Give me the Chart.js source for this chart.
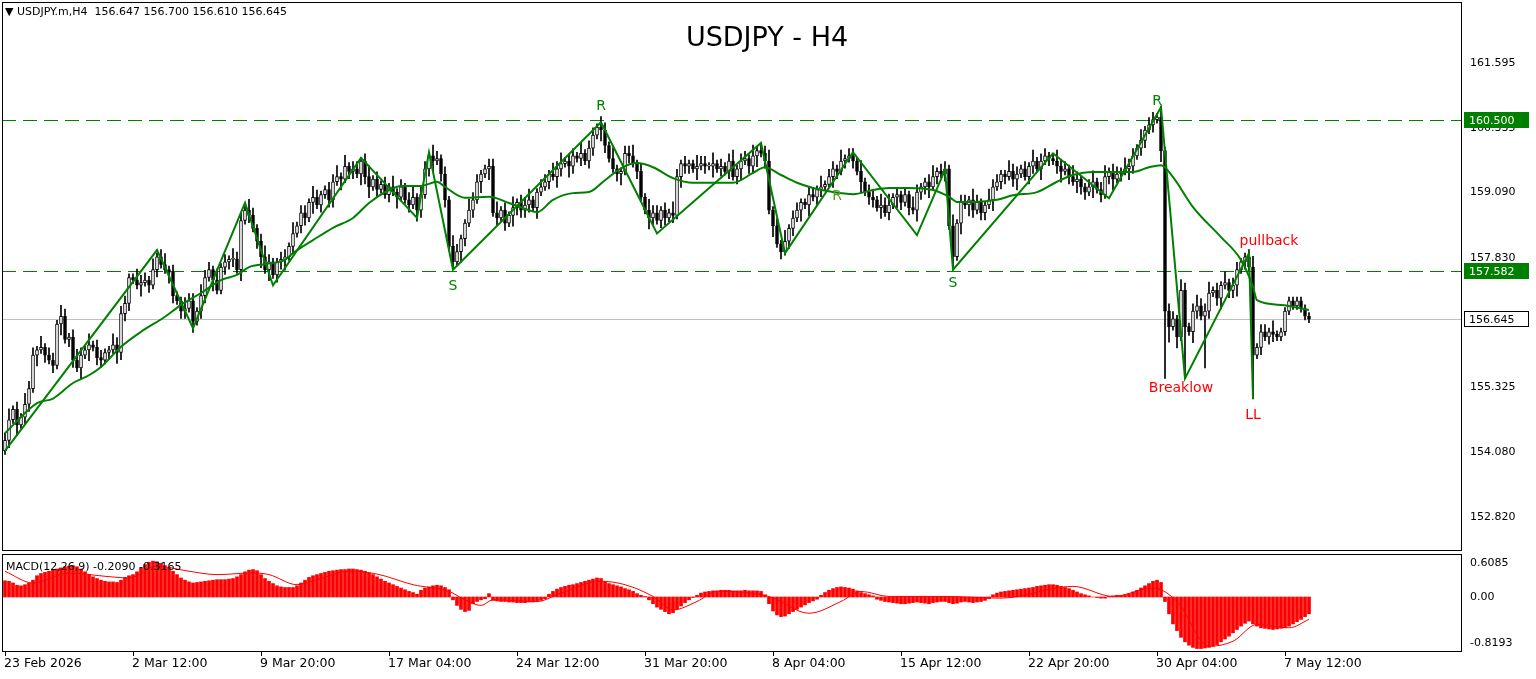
<!DOCTYPE html>
<html>
<head>
<meta charset="utf-8">
<script src="https://cdn.jsdelivr.net/npm/chart.js@4.4.1/dist/chart.umd.min.js"></script>
<style>
  html, body { margin: 0; padding: 0; background: #fff; overflow: hidden; }
  #wrap { position: relative; width: 1536px; height: 679px; }
  canvas { position: absolute; left: 0; }
  #main { top: 0; }
  #macd { top: 553px; }
</style>
</head>
<body>
<div id="wrap">
  <canvas id="main" width="1536" height="553"></canvas>
  <canvas id="macd" width="1536" height="126"></canvas>
</div>
<script>
// USDJPY H4 (one entry per 4h bar)
const closes = [
  154.3,154.7,154.9,154.6,154.75,155.0,155.3,155.95,156.05,156.1,
  155.95,155.85,155.75,156.55,156.7,156.25,156.3,155.85,155.7,155.95,
  156.05,156.15,156.1,155.9,155.85,156.0,156.05,156.15,156.0,156.75,
  156.95,157.45,157.4,157.3,157.35,157.4,157.3,157.6,157.85,157.7,
  157.6,157.55,157.1,157.0,156.8,156.85,157.0,156.6,156.8,157.1,
  157.45,157.6,157.4,157.2,157.65,157.75,157.8,157.8,157.6,158.55,
  158.75,158.65,158.4,158.15,157.85,157.6,157.75,157.5,157.75,157.8,
  157.85,158.05,158.3,158.45,158.7,158.6,158.9,159.0,158.85,159.05,
  159.15,158.95,159.3,159.4,159.35,159.6,159.5,159.55,159.45,159.7,
  159.4,159.2,159.35,159.15,159.25,159.05,159.2,159.1,159.0,159.2,
  158.95,158.85,159.0,158.75,159.05,159.55,159.8,159.7,159.75,159.45,
  158.95,158.05,157.75,157.95,158.2,158.5,158.75,158.95,159.3,159.45,
  159.55,159.6,158.7,158.6,158.75,158.5,158.65,158.8,158.9,158.75,
  158.85,158.95,158.8,159.1,159.2,159.3,159.45,159.4,159.55,159.65,
  159.7,159.6,159.8,159.75,159.85,159.7,159.95,160.2,160.35,160.3,
  160.0,159.75,159.55,159.45,159.5,159.85,159.8,159.65,159.5,159.0,
  158.75,158.6,158.7,158.55,158.75,158.6,158.7,158.65,159.4,159.65,
  159.6,159.65,159.55,159.6,159.65,159.6,159.6,159.65,159.55,159.6,
  159.5,159.7,159.4,159.55,159.7,159.75,159.6,159.8,159.9,159.85,
  159.7,158.75,158.45,158.1,157.95,158.15,158.4,158.6,158.75,158.9,
  158.85,159.05,159.0,159.15,159.2,159.25,159.4,159.55,159.5,159.7,
  159.75,159.8,159.7,159.5,159.3,159.1,159.0,158.95,158.8,158.85,
  158.7,158.85,159.0,159.05,158.9,159.05,158.8,158.75,159.1,159.2,
  159.3,159.2,159.4,159.5,159.45,159.55,158.45,157.85,158.5,158.9,
  158.85,158.95,158.75,158.9,158.7,158.85,158.95,159.2,159.3,159.45,
  159.4,159.5,159.35,159.45,159.55,159.4,159.6,159.7,159.55,159.7,
  159.8,159.75,159.7,159.6,159.5,159.55,159.4,159.3,159.35,159.2,
  159.1,159.2,159.3,159.15,159.05,159.4,159.5,159.35,159.45,159.5,
  159.55,159.6,159.8,159.95,160.1,160.3,160.4,160.5,160.55,159.9,
  156.8,156.5,156.65,156.3,157.2,156.5,156.4,156.8,156.9,156.7,
  156.8,157.15,157.2,157.05,157.3,157.35,157.2,157.3,157.6,157.75,
  157.85,157.65,155.95,156.1,156.4,156.3,156.4,156.35,156.3,156.4,
  156.8,157.0,156.9,157.0,156.85,156.7,156.645
];
const firstOpen = 154.1;

// wick lengths per bar, one digit per bar, in steps of 0.07
const wickUp =
  "2312132213122132123213122113222113221312312113221322131213221321232112" +
  "2131221321122313122123121213121231221321213211322112231213122311221323" +
  "1221312213213112231213221213212113221312123122131223121312211221312213" +
  "1221312213231212132112312213122132113221132212131221132213211231231221" +
  "322131221312213212322312131221123122131";
const wickDn =
  "1213122131212131221313122121322211312121132122131221311222131212313122" +
  "3121221312122131221323121121311213212312212132121313121213222213112132" +
  "1321212213211231212113212212132213121312121231223121312122131312211321" +
  "2121312213121321213223121212131321221312212311221312123121322131212312" +
  "132122121322131213211212312231213121221";
const WICK_STEP = 0.07;
// long tails that do not fit the digit scale
const longTailIdx = [290, 295, 300, 312, 237, 112, 291];
const longTailLow = [155.5, 155.5, 155.7, 155.1, 157.6, 157.6, 156.2];
const longTopIdx = [289, 149, 311];
const longTopHigh = [160.74, 160.45, 157.92];

// zigzag pivots (bar index, price)
const zigIdx = [0, 38, 47, 60, 67, 89, 103, 106, 112, 149, 163, 189, 195, 212, 228, 235, 237, 262, 276, 289, 295, 311, 312];
const zigVal = [154.1, 157.98, 156.47, 158.89, 157.3, 159.76, 158.6, 159.87, 157.6, 160.45, 158.3, 160.05, 157.92, 159.87, 158.27, 159.53, 157.6, 159.85, 158.98, 160.74, 155.5, 157.92, 155.1];

// moving average line (bar index, price)
const maIdx = [0,8,12,17,21,24,29,34,40,44,49,54,58,61,65,70,72,77,82,87,91,96,99,104,108,110,115,121,126,131,133,137,142,146,150,154,158,162,167,172,182,187,190,194,198,202,207,212,217,221,226,232,236,238,242,248,252,258,263,267,272,282,286,289,292,297,304,309,312,313,319,326];
const maVal = [154.44,155.02,155.11,155.41,155.56,155.72,156.11,156.40,156.69,156.92,157.15,157.40,157.50,157.65,157.71,157.79,157.92,158.17,158.41,158.60,158.89,159.14,159.22,159.22,159.30,159.20,158.99,159.01,158.89,158.75,158.71,158.95,159.08,159.10,159.33,159.56,159.66,159.58,159.37,159.28,159.28,159.47,159.58,159.43,159.28,159.18,159.10,159.06,159.14,159.18,159.18,159.14,159.01,158.91,158.91,158.95,159.04,159.10,159.30,159.43,159.49,159.49,159.58,159.62,159.39,158.81,158.23,157.79,157.27,157.01,156.92,156.82];

// MACD histogram per bar, in hundredths
const macdHist = [
  29,28,25,21,20,22,25,30,38,42, 44,46,48,50,52,54,55,56,54,50,
  45,40,36,33,30,28,27,27,26,30, 35,38,40,45,52,58,62,64,63,60,
  56,52,46,40,34,30,27,25,26,27, 28,29,30,31,31,31,32,33,36,40,
  45,48,49,47,40,33,28,24,20,18, 17,17,17,20,25,30,35,38,40,42,
  44,46,47,48,49,49,50,50,49,48, 46,43,40,36,32,28,25,22,19,16,
  13,10,8,5,12,16,18,20,21,20, 17,13,-5,-15,-22,-26,-24,-12,-8,-5,
  -3,6,-6,-7,-8,-8,-9,-9,-10,-10, -10,-9,-9,-8,-6,-3,5,10,14,17,
  19,21,22,24,26,28,30,32,34,33, 28,24,22,20,18,15,13,10,6,3,
  1,-5,-12,-18,-22,-26,-30,-28,-22,-16, -10,-5,-1,3,7,9,10,11,11,12,
  12,12,11,11,11,12,11,11,11,10, 4,-12,-25,-32,-35,-34,-30,-26,-22,-18,
  -14,-10,-7,-4,3,8,12,15,17,18, 17,16,14,11,8,6,4,2,-4,-6,
  -8,-9,-10,-11,-12,-12,-11,-10,-9,-10, -11,-12,-10,-9,-8,-8,-10,-12,-11,-9,
  -8,-9,-10,-9,-8,-6,-3,4,7,9, 10,11,12,13,14,15,16,17,19,20,
  21,22,22,21,19,17,15,12,9,6, 4,2,0,-1,-2,-2,1,2,3,3,
  4,6,9,12,16,20,24,28,30,26, -8,-30,-48,-60,-72,-80,-86,-90,-92,-92,
  -91,-90,-88,-85,-80,-75,-70,-64,-58,-52, -47,-43,-48,-52,-55,-56,-57,-58,-57,-56,
  -55,-52,-48,-44,-40,-35,-30
];
const sigIdx = [0,7,16,25,31,38,46,53,62,66,73,78,86,93,102,111,115,119,122,133,139,149,155,162,167,173,178,191,201,209,214,221,235,249,267,277,287,293,301,307,313,321,326];
const sigVal = [0.46,0.25,0.43,0.37,0.34,0.55,0.46,0.40,0.43,0.40,0.22,0.31,0.46,0.41,0.22,0.10,-0.05,-0.15,-0.05,-0.08,0.07,0.28,0.22,0.01,-0.23,-0.08,0.10,0.01,-0.29,-0.08,0.10,0.01,0.01,-0.02,0.19,0.01,0.16,-0.08,-0.88,-0.79,-0.49,-0.55,-0.40];

const priceTicks = [152.82, 154.08, 155.325, 156.57, 157.83, 159.09, 160.335, 161.595];
const macdTicks = [0.6085, 0, -0.8193];
const timeIdx = [0, 32, 64, 96, 128, 160, 192, 224, 256, 288, 320];
const timeLabels = ['23 Feb 2026', '2 Mar 12:00', '9 Mar 20:00', '17 Mar 04:00', '24 Mar 12:00', '31 Mar 20:00',
  '8 Apr 04:00', '15 Apr 12:00', '22 Apr 20:00', '30 Apr 04:00', '7 May 12:00'];

const levels = [160.5, 157.582];
const lastPrice = 156.645;

const noteText = ['R', 'S', 'R', 'S', 'R', 'pullback', 'Breaklow', 'LL'];
const noteIdx = [149, 112, 288, 237, 208, 316, 294, 312];
const notePrice = [160.76, 157.28, 160.85, 157.34, 159.02, 158.15, 155.3, 154.78];
const noteColor = ['#008000', '#008000', '#008000', '#008000', '#5a9a2a', '#ff0000', '#ff0000', '#ff0000'];

// ---- build candles ----
const wicks = [], bodies = [], bodyFill = [];
let prev = firstOpen;
for (let i = 0; i < closes.length; i++) {
  const o = prev, c = closes[i];
  let hi = Math.max(o, c) + Number(wickUp[i] || 1) * WICK_STEP;
  let lo = Math.min(o, c) - Number(wickDn[i] || 1) * WICK_STEP;
  const t = longTailIdx.indexOf(i);
  if (t >= 0) lo = Math.min(lo, longTailLow[t]);
  const u = longTopIdx.indexOf(i);
  if (u >= 0) hi = Math.max(hi, longTopHigh[u]);
  wicks.push({ x: i, y: [lo, hi] });
  const top = Math.max(o, c), bot = Math.min(o, c);
  bodies.push({ x: i, y: [bot, top - bot < 0.02 ? bot + 0.02 : top] });
  bodyFill.push(c >= o ? '#ffffff' : '#000000');
  prev = c;
}

const X_MIN = -0.75, X_MAX = 364.25;
const FONT = '"DejaVu Sans", Tahoma, sans-serif';

// y axes on the right: fixed width, no extra padding for edge labels
function fitRight(s) {
  s.width = 74;
  s.paddingTop = 0;
  s.paddingBottom = 0;
}

const framePlugin = {
  id: 'frame',
  afterDraw(chart) {
    const { ctx, chartArea: a } = chart;
    ctx.save();
    ctx.strokeStyle = '#000';
    ctx.lineWidth = 1;
    ctx.strokeRect(a.left + 0.5, a.top + 0.5, a.right - a.left - 1, a.bottom - a.top - 1);
    ctx.restore();
  }
};

const overlayPlugin = {
  id: 'overlay',
  beforeDatasetsDraw(chart) {
    const { ctx, chartArea: a, scales: { y } } = chart;
    ctx.save();
    ctx.lineWidth = 1;
    ctx.strokeStyle = '#c0c0c0';
    let py = Math.round(y.getPixelForValue(lastPrice)) + 0.5;
    ctx.beginPath(); ctx.moveTo(a.left, py); ctx.lineTo(a.right, py); ctx.stroke();
    ctx.strokeStyle = '#008000';
    ctx.setLineDash([14, 7]);
    levels.forEach(v => {
      const yy = Math.round(y.getPixelForValue(v)) + 0.5;
      ctx.beginPath(); ctx.moveTo(a.left, yy); ctx.lineTo(a.right, yy); ctx.stroke();
    });
    ctx.restore();
  },
  afterDatasetsDraw(chart) {
    const { ctx, scales: { x, y } } = chart;
    ctx.save();
    ctx.font = '14px ' + FONT;
    ctx.textAlign = 'center';
    ctx.textBaseline = 'middle';
    noteText.forEach((t, k) => {
      ctx.fillStyle = noteColor[k];
      ctx.fillText(t, x.getPixelForValue(noteIdx[k]), y.getPixelForValue(notePrice[k]));
    });
    ctx.fillStyle = '#000';
    ctx.font = '27px ' + FONT;
    ctx.fillText('USDJPY - H4', 767, 39);
    ctx.font = '11px ' + FONT;
    ctx.textAlign = 'left';
    ctx.fillText('\u25BC USDJPY.m,H4  156.647 156.700 156.610 156.645', 5, 12);
    ctx.restore();
  },
  afterDraw(chart) {
    const { ctx, chartArea: a, scales: { y } } = chart;
    ctx.save();
    ctx.font = '11px ' + FONT;
    ctx.textBaseline = 'middle';
    ctx.textAlign = 'left';
    const box = (v, fill, txt, stroke) => {
      const yy = Math.round(y.getPixelForValue(v));
      ctx.fillStyle = fill;
      ctx.fillRect(a.right + 2, yy - 8, 65, 16);
      if (stroke) { ctx.strokeStyle = stroke; ctx.strokeRect(a.right + 2.5, yy - 7.5, 64, 15); }
      ctx.fillStyle = txt;
      ctx.fillText(v.toFixed(3), a.right + 7, yy + 1);
    };
    levels.forEach(v => box(v, '#008000', '#ffffff'));
    box(lastPrice, '#ffffff', '#000000', '#000000');
    ctx.restore();
  }
};

new Chart(document.getElementById('main'), {
  type: 'bar',
  data: {
    datasets: [
      { type: 'line', data: zigIdx.map((v, k) => ({ x: v, y: zigVal[k] })), borderColor: '#008000', borderWidth: 2, pointRadius: 0, order: 0 },
      { type: 'line', data: maIdx.map((v, k) => ({ x: v, y: maVal[k] })), borderColor: '#008000', borderWidth: 2, pointRadius: 0, cubicInterpolationMode: 'monotone', order: 1 },
      { data: bodies, backgroundColor: bodyFill, borderColor: '#000', borderWidth: 1, borderSkipped: false, barThickness: 3, grouped: false, order: 2 },
      { data: wicks, backgroundColor: '#000', borderWidth: 0, barThickness: 1, grouped: false, order: 3 }
    ]
  },
  options: {
    responsive: false,
    animation: false,
    layout: { padding: { left: 2, top: 2, bottom: 2, right: 0 } },
    plugins: { legend: { display: false }, tooltip: { enabled: false } },
    scales: {
      x: { type: 'linear', offset: false, min: X_MIN, max: X_MAX, display: false },
      y: {
        position: 'right', min: 152.163, max: 162.774,
        afterFit: fitRight,
        afterBuildTicks(s) { s.ticks = priceTicks.map(v => ({ value: v })); },
        grid: { display: false, drawTicks: false },
        border: { display: false },
        ticks: { color: '#000', font: { family: FONT, size: 11 }, padding: 8, callback: v => v.toFixed(3) }
      }
    }
  },
  plugins: [overlayPlugin, framePlugin]
});

const macdPlugin = {
  id: 'macdText',
  afterDraw(chart) {
    const { ctx, chartArea: a, scales: { x } } = chart;
    ctx.save();
    ctx.fillStyle = '#000';
    ctx.font = '11px ' + FONT;
    ctx.textBaseline = 'middle';
    ctx.fillText('MACD(12,26,9) -0.2090 -0.3165', 6, 14);
    ctx.strokeStyle = '#000';
    timeIdx.forEach(i => {
      const px = Math.round(x.getPixelForValue(i)) + 0.5;
      ctx.beginPath(); ctx.moveTo(px, a.bottom); ctx.lineTo(px, a.bottom + 4); ctx.stroke();
    });
    ctx.textBaseline = 'top';
    ctx.font = '12.5px ' + FONT;
    timeIdx.forEach((i, k) => ctx.fillText(timeLabels[k], Math.round(x.getPixelForValue(i)) - 1, a.bottom + 5));
    ctx.restore();
  }
};

new Chart(document.getElementById('macd'), {
  type: 'bar',
  data: {
    datasets: [
      { type: 'line', data: sigIdx.map((v, k) => ({ x: v, y: sigVal[k] })), borderColor: '#ff0000', borderWidth: 1, pointRadius: 0, cubicInterpolationMode: 'monotone', order: 0 },
      { data: macdHist.map((v, i) => ({ x: i, y: v / 100 })), backgroundColor: '#ff0000', borderWidth: 0, barThickness: 3, order: 1 }
    ]
  },
  options: {
    responsive: false,
    animation: false,
    layout: { padding: { left: 2, top: 1, bottom: 0, right: 0 } },
    plugins: { legend: { display: false }, tooltip: { enabled: false } },
    scales: {
      x: {
        type: 'linear', offset: false, min: X_MIN, max: X_MAX,
        afterFit(s) { s.height = 27; },
        grid: { display: false, drawTicks: false }, border: { display: false },
        ticks: { display: false }
      },
      y: {
        position: 'right', min: -0.982, max: 0.768,
        afterFit: fitRight,
        afterBuildTicks(s) { s.ticks = macdTicks.map(v => ({ value: v })); },
        grid: { display: false, drawTicks: false }, border: { display: false },
        ticks: { color: '#000', font: { family: FONT, size: 11 }, padding: 8, callback: v => (v === 0 ? '0.00' : v.toFixed(4)) }
      }
    }
  },
  plugins: [macdPlugin, framePlugin]
});
</script>
</body>
</html>
